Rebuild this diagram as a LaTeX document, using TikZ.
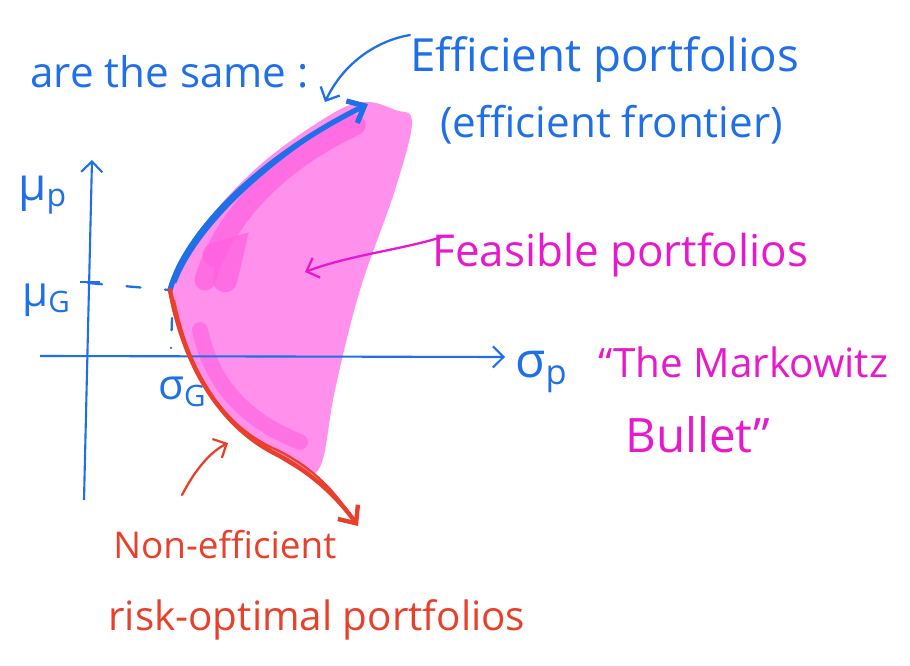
\documentclass[tikz,border=0pt]{standalone}
\usepackage{fontspec}
\setmainfont{Open Sans}
\usetikzlibrary{arrows.meta}
\definecolor{hblue}{HTML}{1E6FE8}
\definecolor{hpink}{HTML}{E818CC}
\definecolor{fillpink}{HTML}{FF90EC}
\definecolor{darkpink}{HTML}{FF5FE0}
\definecolor{hred}{HTML}{E8402A}
\tikzset{
  hand/.style={inner sep=0pt, anchor=west},
  bluetxt/.style={hand, text=hblue},
  pinktxt/.style={hand, text=hpink},
  redtxt/.style={hand, text=hred},
  axis/.style={draw=hblue, line width=1.2pt, -{Straight Barb[length=6pt,width=12pt]}},
  pen/.style={line width=1.3pt, line cap=round, line join=round},
}
\begin{document}
\begin{tikzpicture}[x=0.02cm,y=-0.02cm]
\useasboundingbox (0,0) rectangle (910,666);
% feasible region
\fill[fillpink] plot[smooth cycle, tension=0.6] coordinates {
 (170,290) (200,230) (260,165) (330,115) (365,102) (395,110) (412,122)
 (395,190) (360,290) (335,390) (322,462) (305,472) (268,450) (225,415) (192,360)};
\draw[darkpink, line width=12pt, line cap=round, opacity=0.7] (205,280) .. controls (225,215) and (280,160) .. (355,125);
\draw[darkpink, line width=14pt, line cap=round, opacity=0.7] (215,255) -- (232,250) -- (225,280);
\draw[darkpink, line width=9pt, line cap=round, opacity=0.6] (200,330) .. controls (212,385) and (245,420) .. (300,442);
% axes
\coordinate (yb) at (84,500); \coordinate (yt) at (92,160);
\coordinate (xl) at (40,356); \coordinate (xr) at (505,357);
\draw[axis] (yb) -- (yt);
\draw[axis] (xl) -- (xr);
% G point
\coordinate (G) at (170,290);
\coordinate (tick) at (88,283);
\draw[hblue, line width=1.2pt] (80,282) -- (100,282);
\draw[hblue, pen, dashed, dash pattern=on 8pt off 14pt] (tick) -- (G);
\draw[hblue, pen, dash pattern=on 7pt off 10pt] (172,318) -- (171,348);
% efficient frontier
\coordinate (topE) at (368,104);
\draw[hblue, line width=3pt, line cap=round, -{Straight Barb[length=8pt,width=14pt]}]
  (G) .. controls (185,235) and (255,160) .. (topE);
\draw[hblue, line width=1.5pt] (175,283) .. controls (195,230) and (260,165) .. (350,112);
% non-efficient (red)
\coordinate (botE) at (358,526);
\draw[hred, line width=2.5pt, line cap=round, -{Straight Barb[length=8pt,width=14pt]}]
  (G) .. controls (185,370) and (222,425) .. (272,452) .. controls (312,472) and (338,498) .. (botE);
\draw[hred, line width=1.3pt] (174,300) .. controls (190,378) and (226,428) .. (277,450) .. controls (314,468) and (336,493) .. (352,518);
% labels
\node[bluetxt, font=\fontsize{24}{28}\selectfont] (same) at (30,72) {are the same :};
\node[bluetxt, font=\fontsize{26}{30}\selectfont] (eff) at (410,60) {Efficient portfolios};
\node[bluetxt, font=\fontsize{24}{28}\selectfont] (front) at (440,125) {(efficient frontier)};
\coordinate (effarr) at (325,102);
\draw[hblue, pen, -{Straight Barb[length=6pt,width=12pt]}] (eff.west) ++(0,-25) .. controls (380,40) and (345,60) .. (effarr);
\node[bluetxt, font=\fontsize{26}{30}\selectfont] (mup) at (18,195) {μ\textsubscript{p}};
\node[bluetxt, font=\fontsize{24}{28}\selectfont] (muG) at (22,300) {μ\textsubscript{G}};
\node[bluetxt, font=\fontsize{24}{28}\selectfont] (sG) at (158,392) {σ\textsubscript{G}};
\node[bluetxt, font=\fontsize{28}{32}\selectfont] (sp) at (515,372) {σ\textsubscript{p}};
\node[pinktxt, font=\fontsize{25}{30}\selectfont] (feas) at (432,255) {Feasible portfolios};
\coordinate (feasarr) at (305,272);
\draw[hpink, pen, -{Straight Barb[length=6pt,width=12pt]}] (feas.west) ++(10,-18) .. controls (400,250) and (350,255) .. (feasarr);
\node[pinktxt, font=\fontsize{23}{28}\selectfont] (mk1) at (598,362) {“The Markowitz};
\node[pinktxt, font=\fontsize{27}{32}\selectfont] (mk2) at (625,435) {Bullet”};
\node[redtxt, font=\fontsize{21}{26}\selectfont] (ne1) at (113,545) {Non-efficient};
\node[redtxt, font=\fontsize{23}{28}\selectfont] (ne2) at (108,620) {risk-optimal portfolios};
\coordinate (redarr) at (228,443);
\draw[hred, pen, -{Straight Barb[length=6pt,width=12pt]}] (182,495) .. controls (195,470) and (210,452) .. (redarr);
\end{tikzpicture}
\end{document}
